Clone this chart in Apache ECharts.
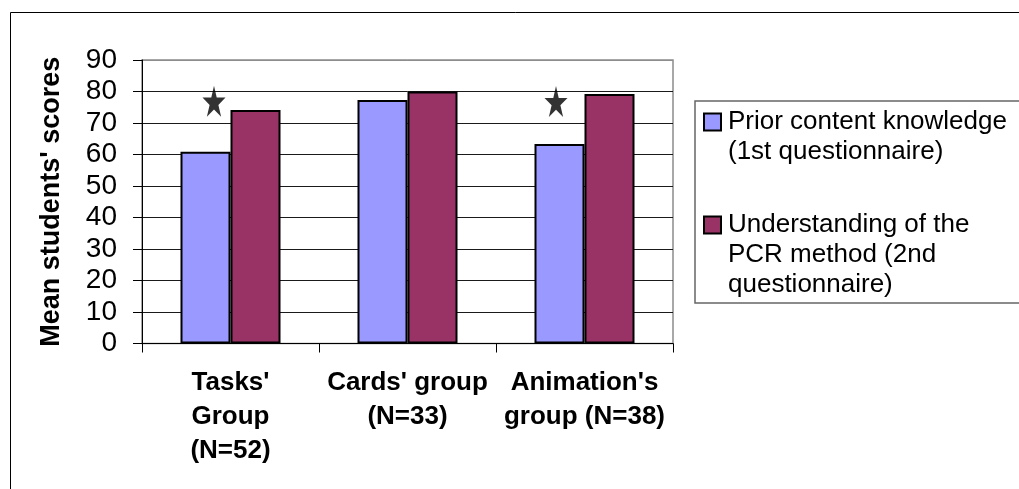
<!DOCTYPE html>
<html>
<head>
<meta charset="utf-8">
<script src="https://cdn.jsdelivr.net/npm/echarts@6/dist/echarts.min.js"></script>
<style>
html,body{margin:0;padding:0;background:#fff;}
#chart{width:1019px;height:489px;}
</style>
</head>
<body>
<div id="chart"></div>
<script>
const categories = ["Tasks'\nGroup\n(N=52)", "Cards' group\n(N=33)", "Animation's\ngroup (N=38)"];
const seriesNames = ["Prior content knowledge\n(1st questionnaire)", "Understanding of the\nPCR method (2nd\nquestionnaire)"];
const priorKnowledge = [60.9, 77.3, 63.3];
const understanding = [74.1, 80.0, 79.2];
const starCategories = [0, 2];
const starValues = [76.9, 76.8];
const starOffsets = [-16.5, -28.5];
const yTicks = [0, 10, 20, 30, 40, 50, 60, 70, 80, 90];

const FONT = "'Liberation Sans', Arial, sans-serif";
const STAR = 'path://M100,0L122.45,69.1L195.1,69.1L136.3,111.8L158.8,180.9L100,138.2L41.2,180.9L63.7,111.8L4.9,69.1L77.55,69.1Z';

const chart = echarts.init(document.getElementById('chart'), null, {renderer: 'canvas'});
const splitColors = yTicks.map((v, i) => i === yTicks.length - 1 ? '#8c8c8c' : '#1a1a1a');

// keep the square beside the first line of each (multi-line) legend entry
function legendText(name) {
  const n = name.split('\n').length;
  return '\n'.repeat(n - 1) + name;
}

chart.setOption({
  animation: false,
  backgroundColor: '#fff',
  textStyle: {fontFamily: FONT},
  graphic: [
    {type: 'rect', silent: true, z: -10, shape: {x: 10.5, y: 12.5, width: 1100, height: 1000},
     style: {fill: 'none', stroke: '#000', lineWidth: 1}},
    {type: 'rect', silent: true, z: -10, shape: {x: 695, y: 101, width: 400, height: 202},
     style: {fill: 'none', stroke: '#666', lineWidth: 1.5}}
  ],
  grid: {left: 142, right: 346, top: 60, bottom: 145.5, show: true, borderColor: '#8c8c8c', borderWidth: 1.5, containLabel: false},
  legend: {
    orient: 'vertical',
    left: 703,
    top: 77,
    padding: 0,
    itemGap: -17,
    itemWidth: 17,
    itemHeight: 17,
    icon: 'rect',
    selectedMode: false,
    data: seriesNames,
    formatter: legendText,
    itemStyle: {borderColor: '#000', borderWidth: 2},
    textStyle: {fontFamily: FONT, fontSize: 26, color: '#000', lineHeight: 30, padding: [0, 0, 0, 2]}
  },
  xAxis: {
    type: 'category',
    data: categories,
    axisLine: {lineStyle: {color: '#000', width: 1}},
    axisTick: {show: true, length: 9, lineStyle: {color: '#000'}},
    axisLabel: {interval: 0, margin: 22, fontFamily: FONT, fontSize: 26, fontWeight: 'bold', color: '#000', lineHeight: 34},
    splitLine: {show: false}
  },
  yAxis: {
    type: 'value',
    min: 0, max: 90, interval: 10,
    name: "Mean students' scores",
    nameLocation: 'middle',
    nameRotate: 90,
    nameGap: 77,
    nameTextStyle: {fontFamily: FONT, fontSize: 27, fontWeight: 'bold', color: '#000'},
    axisLine: {show: true, lineStyle: {color: '#000', width: 1}},
    axisTick: {show: true, length: 9, lineStyle: {color: '#000'}},
    axisLabel: {margin: 25, fontFamily: FONT, fontSize: 28, color: '#000'},
    splitLine: {show: true, lineStyle: {color: splitColors, width: 1}}
  },
  series: [
    {name: seriesNames[0], type: 'bar', data: priorKnowledge, barWidth: 50, barGap: '0%',
     itemStyle: {color: '#9999FF', borderColor: '#000', borderWidth: 2}},
    {name: seriesNames[1], type: 'bar', data: understanding, barWidth: 50, barGap: '0%',
     itemStyle: {color: '#993366', borderColor: '#000', borderWidth: 2}},
    {name: 'significance', type: 'scatter', z: 5,
     symbol: STAR, symbolSize: [23, 31], symbolKeepAspect: false,
     itemStyle: {color: '#000'},
     data: starCategories.map((c, i) => ({value: [c, starValues[i]], symbolOffset: [starOffsets[i], 0]}))}
  ]
});
</script>
</body>
</html>
